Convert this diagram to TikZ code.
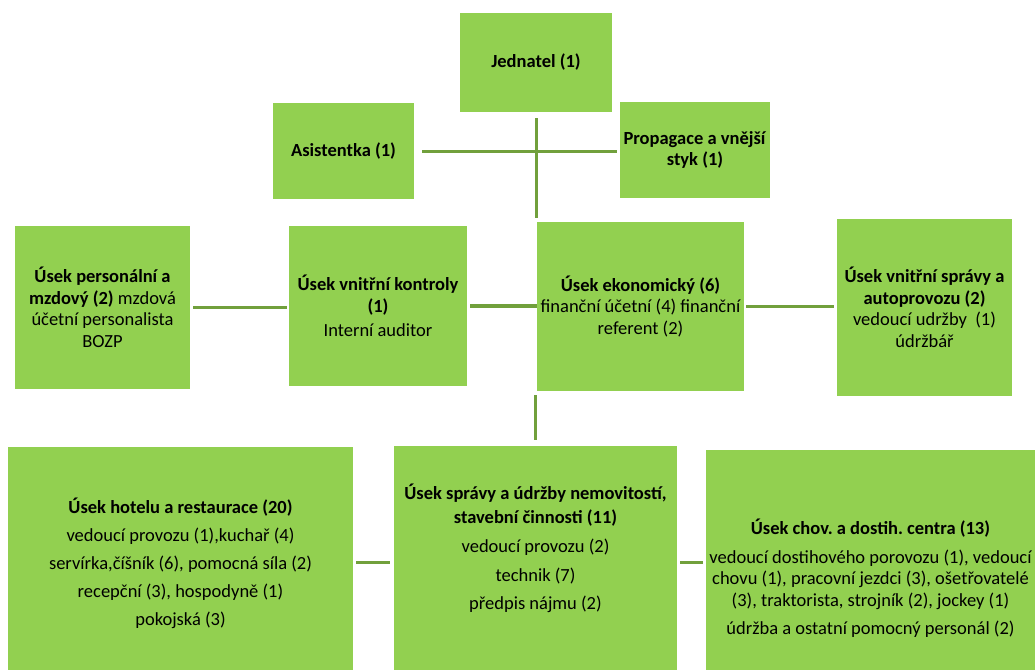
\documentclass[tikz,border=0pt]{standalone}
\usepackage{fontspec}
\setmainfont{Carlito}
\definecolor{boxgreen}{HTML}{92D050}
\definecolor{linkgreen}{HTML}{71A03C}
\frenchspacing

\begin{document}
\begin{tikzpicture}[
            x=1pt, y=-1pt,
            unit/.style={rectangle, fill=boxgreen, align=center, inner sep=0pt,
                font=\fontsize{18.5}{21.5}\selectfont},
            link/.style={draw=linkgreen, line width=3pt}
        ]
            \useasboundingbox (0,0) rectangle (1035,670);

            % top
            \node[unit, minimum width=152pt, minimum height=99pt] (jed) at (536,62.5) {\textbf{Jednatel (1)}};
            \node[unit, minimum width=141pt, minimum height=96pt] (asist) at (343.5,151) {\textbf{Asistentka (1)}};
            \node[unit, minimum width=150pt, minimum height=96pt] (propag) at (695,150) {\textbf{Propagace a vnější}\\\textbf{styk (1)}};

            % middle row
            \node[unit, minimum width=175pt, minimum height=163pt] (personal) at (102.5,307.5)
                {\textbf{Úsek personální a}\\\textbf{mzdový (2)} mzdová\\účetní personalista\\BOZP};
            \node[unit, minimum width=178pt, minimum height=160pt] (kontrol) at (378,306)
                {\textbf{Úsek vnitřní kontroly}\\\textbf{(1)}\\[3pt]Interní auditor};
            \node[unit, minimum width=207pt, minimum height=169pt] (eko) at (640.5,306.5)
                {\textbf{Úsek ekonomický (6)}\\finanční účetní (4) finanční\\referent (2)};
            \node[unit, minimum width=175pt, minimum height=177pt] (vsprava) at (924.5,307.5)
                {\textbf{Úsek vnitřní správy a}\\\textbf{autoprovozu (2)}\\vedoucí udržby\ \ (1)\\údržbář};

            % bottom row
            \node[unit, minimum width=345pt, minimum height=223pt] (hotel) at (180.5,558.5)
                {\mbox{}\\[4pt]\textbf{Úsek hotelu a restaurace (20)}\\[6.5pt]vedoucí provozu (1),kuchař (4)\\[6.5pt]servírka,číšník (6), pomocná síla (2)\\[6.5pt]recepční (3), hospodyně (1)\\[6.5pt]pokojská (3)};
            \node[unit, minimum width=283pt, minimum height=224pt] (sprava) at (535.5,558)
                {\textbf{Úsek správy a údržby nemovitostí,}\\[2pt]\textbf{stavební činnosti (11)}\\[8pt]vedoucí provozu (2)\\[7pt]technik (7)\\[7pt]předpis nájmu (2)\\[1pt]\mbox{}};
            \node[unit, minimum width=329pt, minimum height=220pt] (chov) at (870.5,560)
                {\mbox{}\\[31pt]\textbf{Úsek chov. a dostih. centra (13)}\\[7pt]vedoucí dostihového porovozu (1), vedoucí\\chovu (1), pracovní jezdci (3), ošetřovatelé\\(3), traktorista, strojník (2), jockey (1)\\[7pt]údržba a ostatní pomocný personál (2)};

            \draw[link, shorten <=6pt, shorten >=4pt] (jed.south) -- (jed.south |- eko.north);
            \draw[link, shorten <=8pt, shorten >=3pt] (asist.east) -- (asist.east -| propag.west);
            \draw[link, shorten <=3pt, shorten >=2pt] (personal.east) -- (personal.east -| kontrol.west);
            \draw[link, line width=4.5pt, shorten <=3pt] (kontrol.east) -- (kontrol.east -| eko.west);
            \draw[link, shorten <=2pt, shorten >=3pt] (eko.east) -- (eko.east -| vsprava.west);
            \draw[link, shorten <=4pt, shorten >=6pt] (sprava.north |- eko.south) -- (sprava.north);
            \draw[link, shorten <=3pt, shorten >=4pt] ([yshift=-4pt]hotel.east) -- ([yshift=-4pt]hotel.east -| sprava.west);
            \draw[link, shorten <=3pt, shorten >=3pt] ([yshift=-4pt]sprava.east) -- ([yshift=-4pt]sprava.east -| chov.west);
        \end{tikzpicture}
\end{document}
